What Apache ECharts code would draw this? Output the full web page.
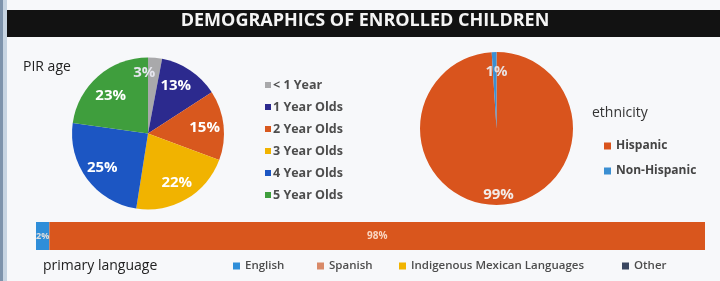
<!DOCTYPE html>
<html>
<head>
<meta charset="utf-8">
<script src="https://cdn.jsdelivr.net/npm/echarts@6/dist/echarts.min.js"></script>
<style>
html,body{margin:0;padding:0;background:#f7f8fa;}
#chart{width:720px;height:281px;}
</style>
</head>
<body>
<div id="chart"></div>
<script>
const chartTitle = 'DEMOGRAPHICS OF ENROLLED CHILDREN';
const ageCategories = ['< 1 Year', '1 Year Olds', '2 Year Olds', '3 Year Olds', '4 Year Olds', '5 Year Olds'];
const ageValues = [3, 13, 15, 22, 25, 23];
const ethnicityCategories = ['Hispanic', 'Non-Hispanic'];
const ethnicityValues = [99, 1];
const languageCategories = ['English', 'Spanish', 'Indigenous Mexican Languages', 'Other'];
const languageValues = [2, 98, 0, 0];

const ageColors = ['#a9a9ab', '#2c2a8e', '#d8581e', '#f1b300', '#1c56c3', '#3f9e3d'];
const ethColors = ['#d9541d', '#3b8fd2'];
const langColors = ['#2f8ed9', '#d9561d', '#f1b400', '#3a4660'];
const langLegendColors = ['#2f8ed9', '#d98a68', '#f1b400', '#3a4660'];

const FONT = '"Open Sans", "Liberation Sans", sans-serif';
const chart = echarts.init(document.getElementById('chart'), null, {renderer: 'canvas'});

const ageCenter = [148, 133.5], ageR = 76;
const ethCenter = [496.5, 128.5], ethR = 76.5;

const pctLabel = p => (p.value ? p.value + '%' : '');

const series = [
  {
    name: 'PIR age', type: 'pie', center: ageCenter, radius: [0, ageR], startAngle: 90,
    label: {show: false}, labelLine: {show: false}, silent: true,
    data: ageCategories.map((n, i) => ({name: n, value: ageValues[i], itemStyle: {color: ageColors[i]}}))
  },
  {
    name: 'PIR age labels', type: 'pie', center: ageCenter, radius: [ageR * 0.42, ageR], startAngle: 90,
    silent: true, itemStyle: {color: 'rgba(0,0,0,0)'}, labelLine: {show: false},
    label: {show: true, position: 'inside', formatter: pctLabel, color: '#ffffff', fontWeight: 'bold', fontSize: 15, fontFamily: FONT},
    data: ageCategories.map((n, i) => ({name: n, value: ageValues[i],
      label: i === 0 ? {color: '#e6e6ee', offset: [-9, -4]} : (i === 1 ? {offset: [-4, 0]} : (i === 5 ? {offset: [0, 5]} : {}))}))
  },
  {
    name: 'ethnicity', type: 'pie', center: ethCenter, radius: [0, ethR], startAngle: 90,
    label: {show: false}, labelLine: {show: false}, silent: true,
    data: ethnicityCategories.map((n, i) => ({name: n, value: ethnicityValues[i], itemStyle: {color: ethColors[i]}}))
  },
  {
    name: 'ethnicity labels', type: 'pie', center: ethCenter, radius: [ethR * 0.57, ethR], startAngle: 90,
    silent: true, itemStyle: {color: 'rgba(0,0,0,0)'}, labelLine: {show: false},
    label: {show: true, position: 'inside', formatter: pctLabel, color: '#f3ece8', fontWeight: 'bold', fontSize: 15, fontFamily: FONT},
    data: ethnicityCategories.map((n, i) => ({name: n, value: ethnicityValues[i],
      label: i === 0 ? {offset: [0, 3]} : {offset: [2, 6], color: '#e8e0e0'}}))
  }
];

languageCategories.forEach((n, i) => {
  series.push({
    name: n, type: 'bar', stack: 'lang', barWidth: 28, silent: true,
    xAxisIndex: 0, yAxisIndex: 0,
    itemStyle: {color: langColors[i]},
    label: {show: true, position: 'inside', formatter: pctLabel, color: 'rgba(255,236,222,0.85)',
      fontSize: i === 0 ? 9 : 10, fontWeight: 'bold', fontFamily: FONT},
    data: [languageValues[i]]
  });
});

const legends = [
  {
    orient: 'vertical', left: 265, top: 78, padding: 0, itemWidth: 6, itemHeight: 6, itemGap: 8, icon: 'rect',
    textStyle: {fontSize: 12.5, fontWeight: 'bold', color: '#4d4d4d', fontFamily: FONT, lineHeight: 14, padding: [0, 0, 0, -3]},
    data: ageCategories.map((n, i) => ({name: n, itemStyle: {color: ageColors[i]}}))
  },
  {
    orient: 'vertical', left: 604, top: 139, padding: 0, itemWidth: 7, itemHeight: 7, itemGap: 11, icon: 'rect',
    textStyle: {fontSize: 12, fontWeight: 'bold', color: '#444', fontFamily: FONT, lineHeight: 14},
    data: ethnicityCategories.map((n, i) => ({name: n, itemStyle: {color: ethColors[i]}}))
  }
];
const langLegendLeft = [233, 317, 399, 622];
languageCategories.forEach((n, i) => {
  legends.push({
    left: langLegendLeft[i], top: 259, padding: 0, itemWidth: 7, itemHeight: 7, icon: 'rect',
    textStyle: {fontSize: 11.5, fontWeight: 600, color: '#4d4d4d', fontFamily: FONT, lineHeight: 14},
    data: [{name: n, itemStyle: {color: langLegendColors[i]}}]
  });
});

chart.setOption({
  backgroundColor: '#f7f8fa',
  animation: false,
  graphic: [
    {type: 'rect', shape: {x: 0, y: 0, width: 3, height: 281}, style: {fill: '#7e93ab'}, silent: true},
    {type: 'rect', shape: {x: 3, y: 0, width: 4, height: 281}, style: {fill: '#c7d4e1'}, silent: true},
    {type: 'rect', shape: {x: 7, y: 10, width: 713, height: 27}, style: {fill: '#121212'}, silent: true}
  ],
  title: [
    {text: chartTitle, left: 365, top: 12, textAlign: 'center', padding: 0,
      textStyle: {color: '#f4f4f4', fontSize: 18, fontWeight: 'bold', fontFamily: FONT}},
    {text: 'PIR age', left: 23, top: 60, padding: 0,
      textStyle: {color: '#222', fontSize: 14, fontWeight: 'normal', fontFamily: FONT}},
    {text: 'ethnicity', left: 592, top: 106, padding: 0,
      textStyle: {color: '#333', fontSize: 14, fontWeight: 'normal', fontFamily: FONT}},
    {text: 'primary language', left: 43, top: 259, padding: 0,
      textStyle: {color: '#222', fontSize: 14, fontWeight: 'normal', fontFamily: FONT}}
  ],
  legend: legends,
  grid: {left: 36, right: 15, top: 222, height: 28, containLabel: false},
  xAxis: {type: 'value', min: 0, max: 100, show: false},
  yAxis: {type: 'category', data: ['primary language'], show: false},
  series: series
});
</script>
</body>
</html>
